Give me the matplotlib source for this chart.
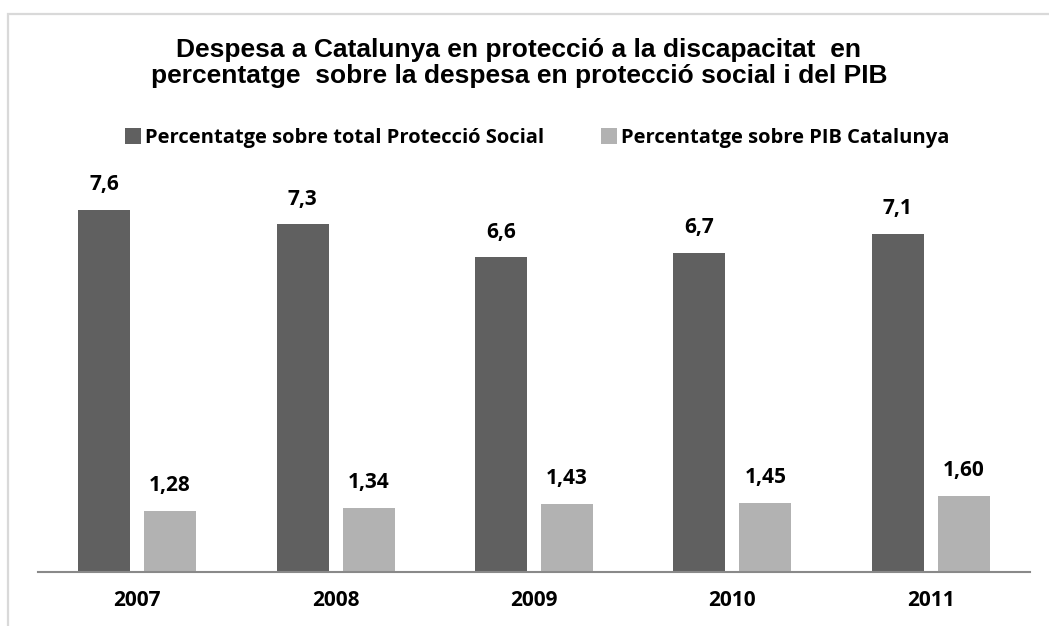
import matplotlib
matplotlib.use("Agg")
import matplotlib.pyplot as plt
from matplotlib.patches import Rectangle
import numpy as np

# ---------------- datos ----------------
anys = ["2007", "2008", "2009", "2010", "2011"]
prot_social = [7.6, 7.3, 6.6, 6.7, 7.1]
pib = [1.28, 1.34, 1.43, 1.45, 1.60]
etiquetes_prot = ["7,6", "7,3", "6,6", "6,7", "7,1"]
etiquetes_pib = ["1,28", "1,34", "1,43", "1,45", "1,60"]
nom_series = ["Percentatge sobre total Protecció Social", "Percentatge sobre PIB Catalunya"]
titol = ("Despesa a Catalunya en protecció a la discapacitat  en\n"
         "percentatge  sobre la despesa en protecció social i del PIB")

color_fosc = "#606060"
color_clar = "#b2b2b2"
font_calibri = "Open Sans"
mida = 14.5

W, H = 1049, 626
fig = plt.figure(figsize=(W / 100, H / 100), dpi=100)

# marc gris de fons
fig.patches.append(Rectangle((8 / W, -0.1), 1.2, (H - 14) / H + 0.1,
                             transform=fig.transFigure, fill=False,
                             edgecolor="#d9d9d9", lw=1.6))

# eixos situats en pixels
ax = fig.add_axes([38 / W, (H - 571.7) / H, 992 / W, 428.6 / H])
x = np.arange(len(anys))
ample = 0.262
desp = 0.166
b1 = ax.bar(x - desp, prot_social, ample, color=color_fosc, label=nom_series[0])
b2 = ax.bar(x + desp, pib, ample, color=color_clar, label=nom_series[1])

ax.set_xlim(-0.5, 4.5)
ax.set_ylim(0, 9)

for barres, etiq in [(b1, etiquetes_prot), (b2, etiquetes_pib)]:
    for rect, t in zip(barres, etiq):
        ax.annotate(t, (rect.get_x() + rect.get_width() / 2, rect.get_height()),
                    xytext=(0, 18), textcoords="offset points",
                    ha="center", va="center", fontsize=15,
                    fontweight="bold", family=font_calibri)

# estil dels eixos
for s in ["top", "left", "right"]:
    ax.spines[s].set_visible(False)
ax.spines["bottom"].set_color("#898989")
ax.spines["bottom"].set_linewidth(1.5)
ax.set_yticks([])
ax.set_xticks(x)
ax.set_xticklabels(anys, fontsize=15, fontweight="bold", family=font_calibri)
ax.tick_params(axis="x", length=0, pad=13.5)
ax.patch.set_alpha(0)

# titol
fig.text(519 / W, 1 - 63 / H, titol, ha="center", va="center",
         fontsize=19, fontweight="bold", family="Liberation Sans",
         linespacing=1.12)

# llegenda
fig.legend(handles=[b1, b2], loc="center", bbox_to_anchor=(537 / W, 1 - 138 / H),
           ncol=2, frameon=False, handlelength=0.8, handleheight=0.8,
           handletextpad=0.2, columnspacing=2.8,
           prop={"family": font_calibri, "weight": "bold", "size": mida})

fig.savefig("out.png", dpi=100, facecolor="white")
